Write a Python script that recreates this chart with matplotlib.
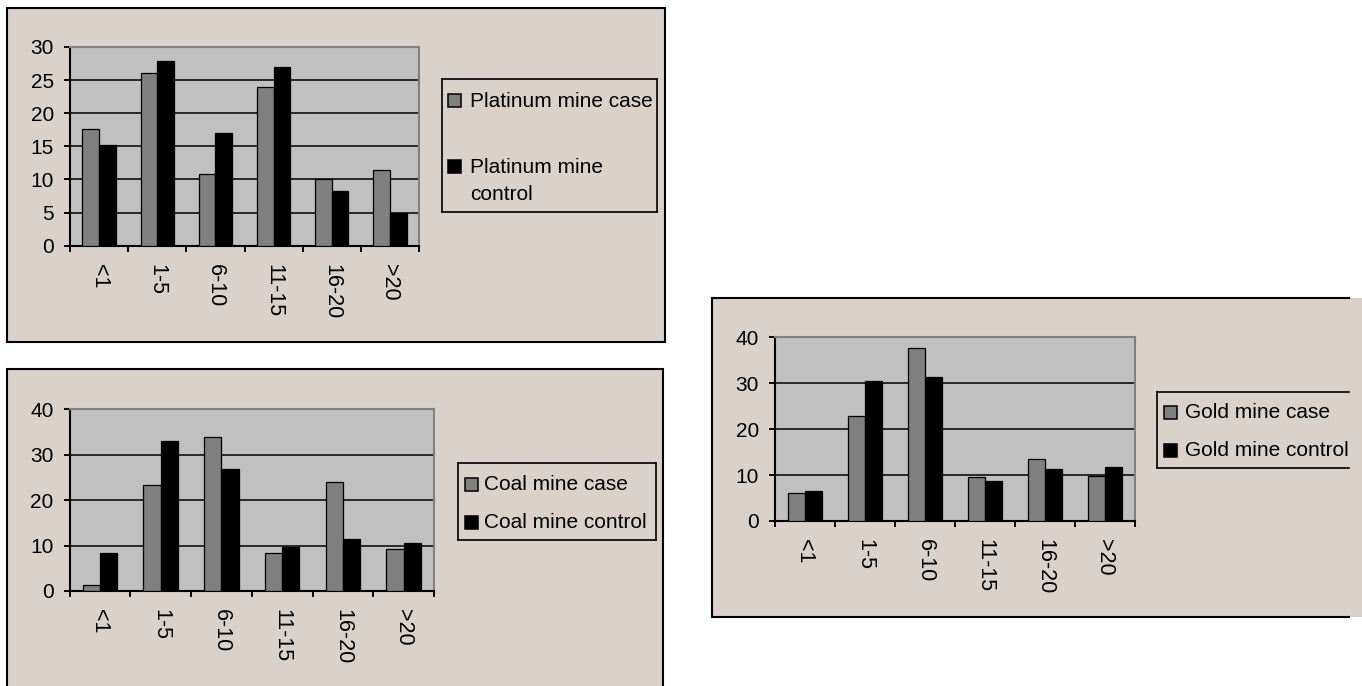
import numpy as np
import matplotlib
matplotlib.use("Agg")
import matplotlib.pyplot as plt
from matplotlib.patches import Rectangle

plt.rcParams['font.family'] = ['Liberation Sans', 'DejaVu Sans']

# ---------------- data ----------------
categories = ["<1", "1-5", "6-10", "11-15", "16-20", ">20"]

platinum_case = [17.6, 26.0, 10.9, 24.0, 10.0, 11.5]
platinum_control = [15.2, 27.9, 17.0, 27.0, 8.3, 4.9]

coal_case = [1.3, 23.3, 33.9, 8.3, 24.1, 9.2]
coal_control = [8.4, 33.1, 26.9, 9.7, 11.4, 10.6]

gold_case = [6.0, 22.9, 37.7, 9.5, 13.4, 9.9]
gold_control = [6.5, 30.5, 31.3, 8.7, 11.3, 11.7]

platinum_labels = ["Platinum mine case", "Platinum mine\ncontrol"]
coal_labels = ["Coal mine case", "Coal mine control"]
gold_labels = ["Gold mine case", "Gold mine control"]

# ---------------- style ----------------
W, H = 1362, 686
BG = "#D9D1CA"
PLOT_BG = "#C0C0C0"
CASE_C = "#808080"
CTRL_C = "#000000"

fig = plt.figure(figsize=(W / 100, H / 100), dpi=100)
fig.patch.set_facecolor("white")

bg = fig.add_axes([0, 0, 1, 1], zorder=0)
bg.set_xlim(0, W); bg.set_ylim(H, 0); bg.axis("off")
ov = fig.add_axes([0, 0, 1, 1], zorder=5)
ov.set_xlim(0, W); ov.set_ylim(H, 0); ov.axis("off")
ov.patch.set_alpha(0)


def frac(x0, y0, x1, y1):
    return [x0 / W, 1 - y1 / H, (x1 - x0) / W, (y1 - y0) / H]


def line(a, xs, ys, lw=1.5, z=2):
    a.plot(xs, ys, color="black", lw=lw, solid_capstyle="projecting", zorder=z)


# panel backgrounds and frames
bg.add_patch(Rectangle((7, 8), 658, 334, facecolor=BG, edgecolor="black", lw=1.5))
bg.add_patch(Rectangle((7, 369), 656, 330, facecolor=BG, edgecolor="black", lw=1.5))
bg.add_patch(Rectangle((711.5, 298), 660, 319, facecolor=BG, edgecolor="none"))
line(bg, [711.5, 711.5], [298, 617])
line(bg, [711.5, 1349], [298, 298])
line(bg, [711.5, 1349], [617, 617])


def chart(rect, case, ctrl, ymax, ystep):
    ax = fig.add_axes(frac(*rect), zorder=2)
    ax.set_facecolor(PLOT_BG)
    x = np.arange(len(categories))
    w = 0.286
    ax.bar(x - w / 2, case, w, color=CASE_C, edgecolor="black", linewidth=0.9, zorder=3)
    ax.bar(x + w / 2, ctrl, w, color=CTRL_C, edgecolor="black", linewidth=0.9, zorder=3)
    ax.set_xlim(-0.5, len(categories) - 0.5)
    ax.set_ylim(0, ymax)
    ax.set_yticks(np.arange(0, ymax + 1, ystep))
    ax.yaxis.grid(True, color="black", lw=1.1)
    ax.set_axisbelow(True)
    ax.set_xticks(x)
    ax.set_xticklabels(categories, rotation=-90, fontsize=15.5)
    ax.set_xticks(np.arange(-0.5, len(categories)), minor=True)
    ax.tick_params(axis="x", which="major", length=0, pad=13)
    ax.tick_params(axis="x", which="minor", length=4.5, width=1.4, direction="out")
    ax.tick_params(axis="y", which="major", length=4.5, width=1.4, direction="out",
                   labelsize=15, pad=7)
    for s in ("left", "bottom"):
        ax.spines[s].set_color("black"); ax.spines[s].set_linewidth(1.5)
    for s in ("top", "right"):
        ax.spines[s].set_color("#808080"); ax.spines[s].set_linewidth(1.5)
    return ax


chart((70, 47, 419, 245.7), platinum_case, platinum_control, 30, 5)
chart((69.5, 409.3, 434, 591), coal_case, coal_control, 40, 10)
chart((775, 337.3, 1135, 521), gold_case, gold_control, 40, 10)


def legend_box(x0, y0, x1, y1, right=True):
    ov.plot([x0, x0], [y0, y1], color="black", lw=1.2, zorder=6)
    ov.plot([x0, x1], [y0, y0], color="black", lw=1.2, zorder=6)
    ov.plot([x0, x1], [y1, y1], color="black", lw=1.2, zorder=6)
    if right:
        ov.plot([x1, x1], [y0, y1], color="black", lw=1.2, zorder=6)


def entry(mx, tx, baseline, color, lines):
    ov.add_patch(Rectangle((mx, baseline - 13), 13, 13, facecolor=color,
                           edgecolor="black", lw=1.1, zorder=6))
    for i, t in enumerate(lines):
        ov.text(tx, baseline + 27 * i, t, fontsize=15, va="baseline", ha="left", zorder=6)


# legend panel 1
legend_box(442, 79.3, 657, 211.7)
entry(448, 470, 106.7, CASE_C, platinum_labels[0].split("\n"))
entry(448, 470, 172.7, CTRL_C, platinum_labels[1].split("\n"))

# legend panel 2
legend_box(457.6, 462.7, 656, 540)
entry(465, 484, 490.5, CASE_C, coal_labels[0].split("\n"))
entry(465, 484, 528.5, CTRL_C, coal_labels[1].split("\n"))

# legend panel 3 (cut at the right)
legend_box(1156.6, 391.7, 1349, 467.7, right=False)
entry(1164, 1185, 418.5, CASE_C, gold_labels[0].split("\n"))
entry(1164, 1185, 456.5, CTRL_C, gold_labels[1].split("\n"))
ov.add_patch(Rectangle((1349.8, 299.2), 20, 316.8, facecolor=BG, edgecolor="none", zorder=9))

fig.savefig("out.png", dpi=100, facecolor="white")
